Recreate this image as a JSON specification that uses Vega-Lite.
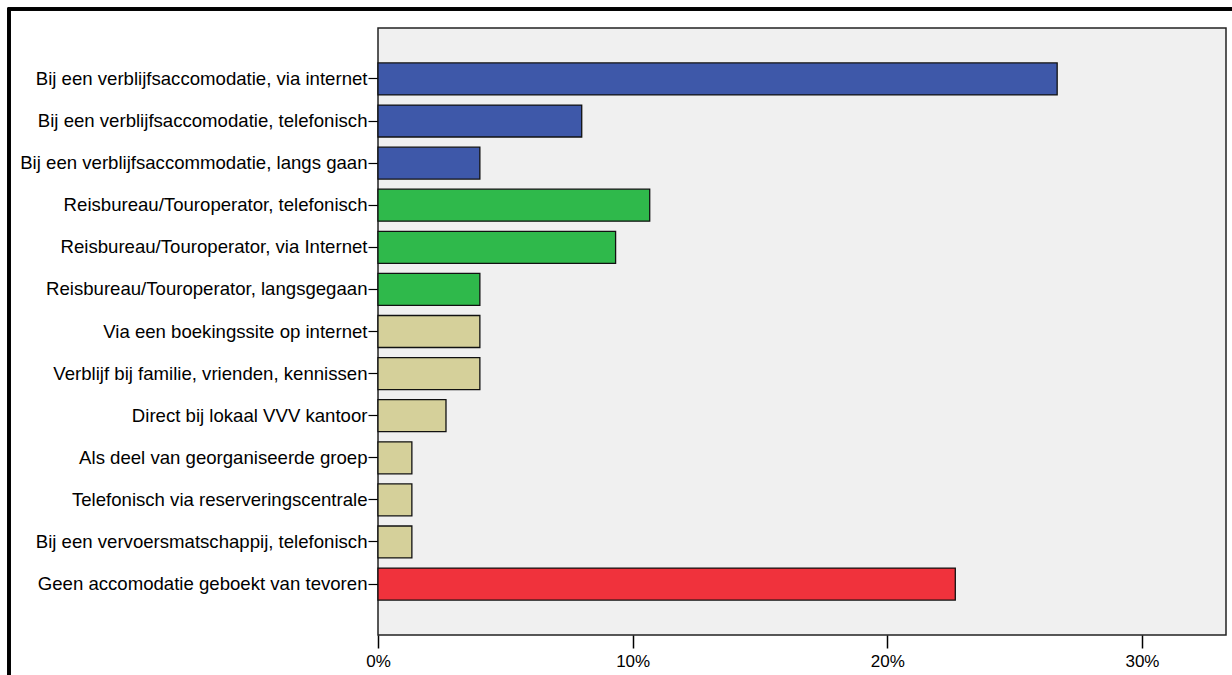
{
  "$schema": "https://vega.github.io/schema/vega-lite/v6.json",
  "autosize": "none",
  "width": 848,
  "height": 607,
  "padding": {"left": 378, "top": 28, "right": 6, "bottom": 40},
  "background": "white",
  "config": {
    "font": "Liberation Sans",
    "view": {"fill": "#f0f0f0", "stroke": "#222222", "strokeWidth": 1.5}
  },
  "data": {
    "values": [
      {"wijze": "Bij een verblijfsaccomodatie, via internet", "groep": "verblijf", "pct": 26.67},
      {"wijze": "Bij een verblijfsaccomodatie, telefonisch", "groep": "verblijf", "pct": 8.0},
      {"wijze": "Bij een verblijfsaccommodatie, langs gaan", "groep": "verblijf", "pct": 4.0},
      {"wijze": "Reisbureau/Touroperator, telefonisch", "groep": "reisbureau", "pct": 10.67},
      {"wijze": "Reisbureau/Touroperator, via Internet", "groep": "reisbureau", "pct": 9.33},
      {"wijze": "Reisbureau/Touroperator, langsgegaan", "groep": "reisbureau", "pct": 4.0},
      {"wijze": "Via een boekingssite op internet", "groep": "overig", "pct": 4.0},
      {"wijze": "Verblijf bij familie, vrienden, kennissen", "groep": "overig", "pct": 4.0},
      {"wijze": "Direct bij lokaal VVV kantoor", "groep": "overig", "pct": 2.67},
      {"wijze": "Als deel van georganiseerde groep", "groep": "overig", "pct": 1.33},
      {"wijze": "Telefonisch via reserveringscentrale", "groep": "overig", "pct": 1.33},
      {"wijze": "Bij een vervoersmatschappij, telefonisch", "groep": "overig", "pct": 1.33},
      {"wijze": "Geen accomodatie geboekt van tevoren", "groep": "geen", "pct": 22.67}
    ]
  },
  "layer": [
    {
      "mark": {"type": "bar", "stroke": "#111111", "strokeWidth": 1.3},
      "encoding": {
        "y": {
          "field": "wijze",
          "type": "nominal",
          "sort": null,
          "scale": {"paddingInner": 0.24, "paddingOuter": 0.83},
          "axis": {
            "title": null,
            "domain": false,
            "tickSize": 10,
            "tickColor": "#000000",
            "tickWidth": 1.2,
            "labelFontSize": 18.6,
            "labelColor": "#000000",
            "labelPadding": 1,
            "labelLimit": 400
          }
        },
        "x": {
          "field": "pct",
          "type": "quantitative",
          "scale": {"domain": [0, 33.3], "nice": false},
          "axis": {
            "title": null,
            "values": [0, 10, 20, 30],
            "labelExpr": "datum.value + '%'",
            "grid": false,
            "domain": false,
            "tickSize": 13,
            "tickColor": "#000000",
            "tickWidth": 1.5,
            "labelFontSize": 17,
            "labelColor": "#000000",
            "labelPadding": 5,
            "labelFlush": false
          }
        },
        "color": {
          "field": "groep",
          "type": "nominal",
          "scale": {
            "domain": ["verblijf", "reisbureau", "overig", "geen"],
            "range": ["#3e58a9", "#2fb94b", "#d5d09a", "#f0323c"]
          },
          "legend": null
        }
      }
    },
    {
      "mark": {"type": "rect", "fill": null, "stroke": "#000000", "strokeWidth": 2.5, "clip": false},
      "encoding": {
        "x": {"value": -369},
        "x2": {"value": 900},
        "y": {"value": -19},
        "y2": {"value": 700}
      }
    }
  ]
}
